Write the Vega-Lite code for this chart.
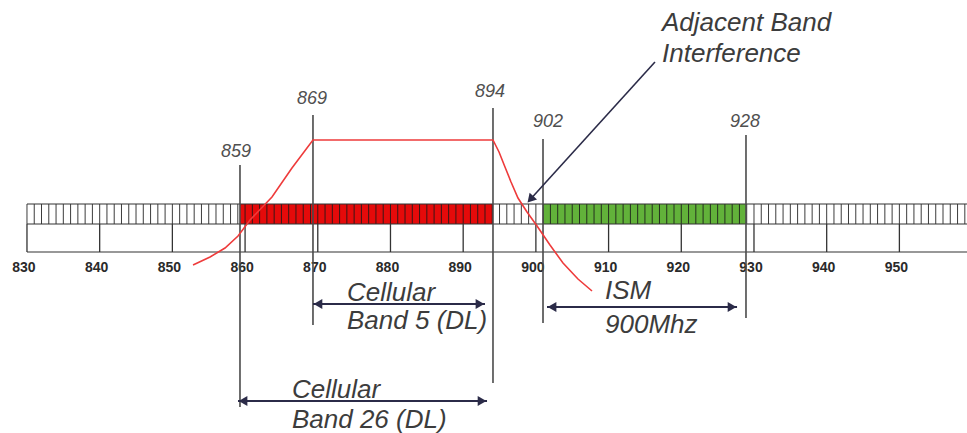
{
  "$schema": "https://vega.github.io/schema/vega-lite/v6.json",
  "width": 967,
  "height": 433,
  "autosize": {"type": "none"},
  "padding": 0,
  "background": "white",
  "config": {"view": {"stroke": null}},
  "datasets": {
    "bands": [
      {"f": 859.3, "f2": 894.1, "y": 204, "y2": 224, "c": "#e50a0a"},
      {"f": 900.98, "f2": 928.9, "y": 204, "y2": 224, "c": "#62b23a"}
    ],
    "minor": [
      {"f":830,"y":204,"y2":224},{"f":831,"y":204,"y2":224},{"f":832,"y":204,"y2":224},{"f":833,"y":204,"y2":224},{"f":834,"y":204,"y2":224},{"f":835,"y":204,"y2":224},{"f":836,"y":204,"y2":224},{"f":837,"y":204,"y2":224},{"f":838,"y":204,"y2":224},{"f":839,"y":204,"y2":224},
      {"f":840,"y":204,"y2":224},{"f":841,"y":204,"y2":224},{"f":842,"y":204,"y2":224},{"f":843,"y":204,"y2":224},{"f":844,"y":204,"y2":224},{"f":845,"y":204,"y2":224},{"f":846,"y":204,"y2":224},{"f":847,"y":204,"y2":224},{"f":848,"y":204,"y2":224},{"f":849,"y":204,"y2":224},
      {"f":850,"y":204,"y2":224},{"f":851,"y":204,"y2":224},{"f":852,"y":204,"y2":224},{"f":853,"y":204,"y2":224},{"f":854,"y":204,"y2":224},{"f":855,"y":204,"y2":224},{"f":856,"y":204,"y2":224},{"f":857,"y":204,"y2":224},{"f":858,"y":204,"y2":224},{"f":859,"y":204,"y2":224},
      {"f":860,"y":204,"y2":224},{"f":861,"y":204,"y2":224},{"f":862,"y":204,"y2":224},{"f":863,"y":204,"y2":224},{"f":864,"y":204,"y2":224},{"f":865,"y":204,"y2":224},{"f":866,"y":204,"y2":224},{"f":867,"y":204,"y2":224},{"f":868,"y":204,"y2":224},{"f":869,"y":204,"y2":224},
      {"f":870,"y":204,"y2":224},{"f":871,"y":204,"y2":224},{"f":872,"y":204,"y2":224},{"f":873,"y":204,"y2":224},{"f":874,"y":204,"y2":224},{"f":875,"y":204,"y2":224},{"f":876,"y":204,"y2":224},{"f":877,"y":204,"y2":224},{"f":878,"y":204,"y2":224},{"f":879,"y":204,"y2":224},
      {"f":880,"y":204,"y2":224},{"f":881,"y":204,"y2":224},{"f":882,"y":204,"y2":224},{"f":883,"y":204,"y2":224},{"f":884,"y":204,"y2":224},{"f":885,"y":204,"y2":224},{"f":886,"y":204,"y2":224},{"f":887,"y":204,"y2":224},{"f":888,"y":204,"y2":224},{"f":889,"y":204,"y2":224},
      {"f":890,"y":204,"y2":224},{"f":891,"y":204,"y2":224},{"f":892,"y":204,"y2":224},{"f":893,"y":204,"y2":224},{"f":894,"y":204,"y2":224},{"f":895,"y":204,"y2":224},{"f":896,"y":204,"y2":224},{"f":897,"y":204,"y2":224},{"f":898,"y":204,"y2":224},{"f":899,"y":204,"y2":224},
      {"f":900,"y":204,"y2":224},{"f":901,"y":204,"y2":224},{"f":902,"y":204,"y2":224},{"f":903,"y":204,"y2":224},{"f":904,"y":204,"y2":224},{"f":905,"y":204,"y2":224},{"f":906,"y":204,"y2":224},{"f":907,"y":204,"y2":224},{"f":908,"y":204,"y2":224},{"f":909,"y":204,"y2":224},
      {"f":910,"y":204,"y2":224},{"f":911,"y":204,"y2":224},{"f":912,"y":204,"y2":224},{"f":913,"y":204,"y2":224},{"f":914,"y":204,"y2":224},{"f":915,"y":204,"y2":224},{"f":916,"y":204,"y2":224},{"f":917,"y":204,"y2":224},{"f":918,"y":204,"y2":224},{"f":919,"y":204,"y2":224},
      {"f":920,"y":204,"y2":224},{"f":921,"y":204,"y2":224},{"f":922,"y":204,"y2":224},{"f":923,"y":204,"y2":224},{"f":924,"y":204,"y2":224},{"f":925,"y":204,"y2":224},{"f":926,"y":204,"y2":224},{"f":927,"y":204,"y2":224},{"f":928,"y":204,"y2":224},{"f":929,"y":204,"y2":224},
      {"f":930,"y":204,"y2":224},{"f":931,"y":204,"y2":224},{"f":932,"y":204,"y2":224},{"f":933,"y":204,"y2":224},{"f":934,"y":204,"y2":224},{"f":935,"y":204,"y2":224},{"f":936,"y":204,"y2":224},{"f":937,"y":204,"y2":224},{"f":938,"y":204,"y2":224},{"f":939,"y":204,"y2":224},
      {"f":940,"y":204,"y2":224},{"f":941,"y":204,"y2":224},{"f":942,"y":204,"y2":224},{"f":943,"y":204,"y2":224},{"f":944,"y":204,"y2":224},{"f":945,"y":204,"y2":224},{"f":946,"y":204,"y2":224},{"f":947,"y":204,"y2":224},{"f":948,"y":204,"y2":224},{"f":949,"y":204,"y2":224},
      {"f":950,"y":204,"y2":224},{"f":951,"y":204,"y2":224},{"f":952,"y":204,"y2":224},{"f":953,"y":204,"y2":224},{"f":954,"y":204,"y2":224},{"f":955,"y":204,"y2":224},{"f":956,"y":204,"y2":224},{"f":957,"y":204,"y2":224},{"f":958,"y":204,"y2":224},{"f":959,"y":204,"y2":224}
    ],
    "hlines": [
      {"f": 830, "f2": 965, "y": 204},
      {"f": 830, "f2": 965, "y": 224},
      {"f": 830, "f2": 965, "y": 252}
    ],
    "major": [
      {"f":830,"y":224,"y2":252,"ly":272},{"f":840,"y":224,"y2":252,"ly":272},{"f":850,"y":224,"y2":252,"ly":272},
      {"f":860,"y":224,"y2":252,"ly":272},{"f":870,"y":224,"y2":252,"ly":272},{"f":880,"y":224,"y2":252,"ly":272},
      {"f":890,"y":224,"y2":252,"ly":272},{"f":900,"y":224,"y2":252,"ly":272},{"f":910,"y":224,"y2":252,"ly":272},
      {"f":920,"y":224,"y2":252,"ly":272},{"f":930,"y":224,"y2":252,"ly":272},{"f":940,"y":224,"y2":252,"ly":272},
      {"f":950,"y":224,"y2":252,"ly":272}
    ],
    "vlines": [
      {"f": 859.3, "y": 165, "y2": 407, "label": "859", "lx": 858.75, "ly": 157},
      {"f": 869.34, "y": 115, "y2": 325, "label": "869", "lx": 869.2, "ly": 104},
      {"f": 894.1, "y": 108, "y2": 383, "label": "894", "lx": 893.7, "ly": 97},
      {"f": 900.98, "y": 139, "y2": 323, "label": "902", "lx": 901.67, "ly": 127},
      {"f": 928.9, "y": 135, "y2": 318, "label": "928", "lx": 928.77, "ly": 127}
    ],
    "curve": [
      {"f": 852.84, "y": 265},
      {"f": 855.18, "y": 257},
      {"f": 857.24, "y": 248},
      {"f": 859.03, "y": 236},
      {"f": 860.68, "y": 220},
      {"f": 863.7, "y": 197},
      {"f": 866.45, "y": 168},
      {"f": 869.34, "y": 140},
      {"f": 894.1, "y": 140},
      {"f": 894.93, "y": 152},
      {"f": 895.75, "y": 167},
      {"f": 896.58, "y": 182},
      {"f": 897.54, "y": 198},
      {"f": 898.78, "y": 212},
      {"f": 900.16, "y": 226},
      {"f": 901.94, "y": 245},
      {"f": 903.73, "y": 263},
      {"f": 905.79, "y": 279},
      {"f": 907.72, "y": 291}
    ],
    "arrows": [
      {"f": 869.34, "f2": 893.0, "y": 304},
      {"f": 859.03, "f2": 893.28, "y": 401},
      {"f": 901.53, "f2": 927.67, "y": 307}
    ],
    "heads": [
      {"f": 870.03, "y": 304, "s": "triangle-left", "a": 0},
      {"f": 892.31, "y": 304, "s": "triangle-right", "a": 0},
      {"f": 859.72, "y": 401, "s": "triangle-left", "a": 0},
      {"f": 892.59, "y": 401, "s": "triangle-right", "a": 0},
      {"f": 902.22, "y": 307, "s": "triangle-left", "a": 0},
      {"f": 926.98, "y": 307, "s": "triangle-right", "a": 0},
      {"f": 899.25, "y": 199.3, "s": "triangle-up", "a": 222}
    ],
    "diag": [{"f": 916.38, "y": 62, "f2": 899.25, "y2": 199.3}],
    "notes": [
      {"f": 874.02, "y": 301, "t": "Cellular"},
      {"f": 874.02, "y": 329, "t": "Band 5 (DL)"},
      {"f": 866.45, "y": 398, "t": "Cellular"},
      {"f": 866.45, "y": 428, "t": "Band 26 (DL)"},
      {"f": 909.51, "y": 299, "t": "ISM"},
      {"f": 909.51, "y": 333, "t": "900Mhz"}
    ],
    "title": [
      {"f": 917.35, "y": 31, "t": "Adjacent Band"},
      {"f": 917.35, "y": 62, "t": "Interference"}
    ]
  },
  "encoding": {
    "x": {"field": "f", "type": "quantitative", "scale": {"domain": [826.29, 959.3], "nice": false, "zero": false}, "axis": null},
    "y": {"field": "y", "type": "quantitative", "scale": {"domain": [0, 433], "nice": false, "zero": false, "reverse": true}, "axis": null}
  },
  "layer": [
    {
      "data": {"name": "bands"},
      "mark": {"type": "rect"},
      "encoding": {
        "x2": {"field": "f2"},
        "y2": {"field": "y2"},
        "color": {"field": "c", "type": "nominal", "scale": null}
      }
    },
    {
      "data": {"name": "minor"},
      "mark": {"type": "rule", "stroke": "#1a1a1a", "strokeWidth": 1, "opacity": 0.85},
      "encoding": {"y2": {"field": "y2"}}
    },
    {
      "data": {"name": "hlines"},
      "mark": {"type": "rule", "stroke": "#333333", "strokeWidth": 1.2},
      "encoding": {"x2": {"field": "f2"}}
    },
    {
      "data": {"name": "major"},
      "mark": {"type": "rule", "stroke": "#333333", "strokeWidth": 1.3},
      "encoding": {"y2": {"field": "y2"}}
    },
    {
      "data": {"name": "major"},
      "mark": {"type": "text", "font": "Liberation Sans", "fontWeight": "bold", "fontSize": 14, "fill": "#2a2a2a", "baseline": "alphabetic", "align": "center", "dx": -3},
      "encoding": {"y": {"field": "ly", "type": "quantitative"}, "text": {"field": "f", "type": "quantitative", "format": "d"}}
    },
    {
      "data": {"name": "vlines"},
      "mark": {"type": "rule", "stroke": "#4a4a4a", "strokeWidth": 1.6},
      "encoding": {"y2": {"field": "y2"}}
    },
    {
      "data": {"name": "vlines"},
      "mark": {"type": "text", "font": "Liberation Sans", "fontStyle": "italic", "fontSize": 18, "fill": "#505050", "baseline": "alphabetic", "align": "center"},
      "encoding": {
        "x": {"field": "lx", "type": "quantitative"},
        "y": {"field": "ly", "type": "quantitative"},
        "text": {"field": "label"}
      }
    },
    {
      "data": {"name": "curve"},
      "mark": {"type": "line", "stroke": "#ee3b3b", "strokeWidth": 1.6},
      "encoding": {}
    },
    {
      "data": {"name": "arrows"},
      "mark": {"type": "rule", "stroke": "#2b2b48", "strokeWidth": 2},
      "encoding": {"x2": {"field": "f2"}}
    },
    {
      "data": {"name": "diag"},
      "mark": {"type": "rule", "stroke": "#2b2b48", "strokeWidth": 1.6},
      "encoding": {"x2": {"field": "f2"}, "y2": {"field": "y2"}}
    },
    {
      "data": {"name": "heads"},
      "mark": {"type": "point", "filled": true, "fill": "#2b2b48", "opacity": 1, "size": 100},
      "encoding": {
        "shape": {"field": "s", "type": "nominal", "scale": null},
        "angle": {"field": "a", "type": "quantitative", "scale": null}
      }
    },
    {
      "data": {"name": "notes"},
      "mark": {"type": "text", "font": "Liberation Sans", "fontStyle": "italic", "fontSize": 26, "fill": "#3c3c3c", "baseline": "alphabetic", "align": "left"},
      "encoding": {"text": {"field": "t"}}
    },
    {
      "data": {"name": "title"},
      "mark": {"type": "text", "font": "Liberation Sans", "fontStyle": "italic", "fontSize": 26, "fill": "#3c3c3c", "baseline": "alphabetic", "align": "left"},
      "encoding": {"text": {"field": "t"}}
    }
  ]
}
